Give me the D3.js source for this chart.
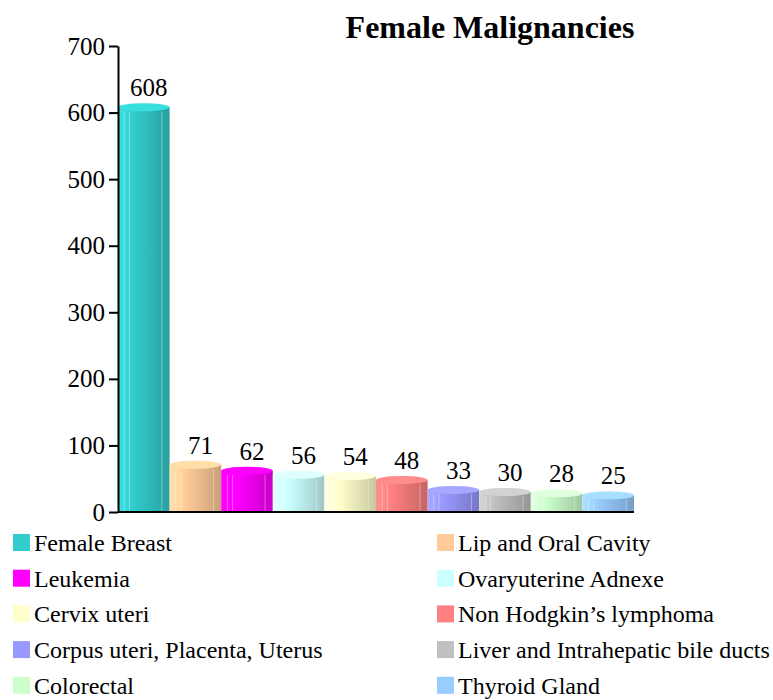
<!DOCTYPE html>
<html>
<head>
<meta charset="utf-8">
<script src="https://cdn.jsdelivr.net/npm/d3@7"></script>
<style>
  body { margin: 0; background: #fff; }
  text { font-family: "Liberation Serif", "Times New Roman", serif; }
</style>
</head>
<body>
<svg></svg>
<script>
const categories = ["Female Breast", "Lip and Oral Cavity", "Leukemia", "Ovaryuterine Adnexe",
  "Cervix uteri", "Non Hodgkin\u2019s lymphoma", "Corpus uteri, Placenta, Uterus",
  "Liver and Intrahepatic bile ducts", "Colorectal", "Thyroid Gland"];
const values = [608, 71, 62, 56, 54, 48, 33, 30, 28, 25];
const colors = ["#33CCCC", "#FFCC99", "#FF00FF", "#CCFFFF", "#FFFFCC",
  "#FF8080", "#9999FF", "#C0C0C0", "#CCFFCC", "#99CCFF"];
const yTicks = [0, 100, 200, 300, 400, 500, 600, 700];

const width = 773, height = 700;
const svg = d3.select('svg').attr('width', width).attr('height', height);

const x = d3.scaleBand().domain(categories).range([118, 634]).padding(0);
const y = d3.scaleLinear().domain([0, 700]).range([512, 46]);

// gradients
const defs = svg.append('defs');
categories.forEach((c, i) => {
  const base = d3.color(colors[i]);
  const g = defs.append('linearGradient').attr('id', 'g' + i)
    .attr('x1', '0%').attr('x2', '100%').attr('y1', '0%').attr('y2', '0%');
  g.append('stop').attr('offset', '0%').attr('stop-color', base.brighter(0.3));
  g.append('stop').attr('offset', '30%').attr('stop-color', base);
  g.append('stop').attr('offset', '100%').attr('stop-color', base.darker(0.7));
});

svg.append('text')
  .attr('x', 490).attr('y', 38)
  .attr('text-anchor', 'middle')
  .attr('font-size', 32).attr('font-weight', 'bold')
  .text('Female Malignancies');

const bars = svg.append('g').selectAll('g').data(categories).join('g');
const ry = 4;
bars.append('rect')
  .attr('x', d => x(d))
  .attr('y', (d, i) => y(values[i]))
  .attr('width', x.bandwidth())
  .attr('height', (d, i) => y(0) - y(values[i]))
  .attr('fill', (d, i) => `url(#g${i})`);
// highlight lines
[0.12, 0.22, 0.85].forEach(f => {
  bars.append('line')
    .attr('x1', d => x(d) + x.bandwidth() * f)
    .attr('x2', d => x(d) + x.bandwidth() * f)
    .attr('y1', (d, i) => y(values[i]) + ry)
    .attr('y2', y(0))
    .attr('stroke', '#fff').attr('stroke-opacity', 0.35).attr('stroke-width', 1);
});
bars.append('ellipse')
  .attr('cx', d => x(d) + x.bandwidth() / 2)
  .attr('cy', (d, i) => y(values[i]))
  .attr('rx', x.bandwidth() / 2)
  .attr('ry', ry)
  .attr('fill', (d, i) => d3.color(colors[i]).brighter(0.25));
bars.append('text')
  .attr('x', d => x(d) + x.bandwidth() / 2 + 5)
  .attr('y', (d, i) => y(values[i]) - 11)
  .attr('text-anchor', 'middle')
  .attr('font-size', 25)
  .text((d, i) => values[i]);

// axes
const yAxis = svg.append('g').attr('transform', 'translate(118,0)')
  .call(d3.axisLeft(y).tickValues(yTicks).tickSize(9).tickPadding(4).tickSizeOuter(0));
yAxis.select('.domain').attr('stroke', '#000').attr('stroke-width', 2);
yAxis.selectAll('.tick line').attr('stroke-width', 2);
yAxis.selectAll('.tick text').attr('font-size', 25).attr('font-family', '"Liberation Serif", serif').attr('fill', '#000');

svg.append('line').attr('x1', 118).attr('x2', 634).attr('y1', y(0)).attr('y2', y(0))
  .attr('stroke', '#000').attr('stroke-width', 2);

// legend
const legend = svg.append('g').selectAll('g').data(categories).join('g')
  .attr('transform', (d, i) => `translate(${i % 2 === 0 ? 13 : 437},${551 + Math.floor(i / 2) * 35.7})`);
legend.append('rect').attr('x', 0).attr('y', -17).attr('width', 17).attr('height', 17)
  .attr('fill', (d, i) => colors[i]);
legend.append('text').attr('x', 21).attr('y', 0).attr('font-size', 24).text(d => d);
</script>
</body>
</html>
